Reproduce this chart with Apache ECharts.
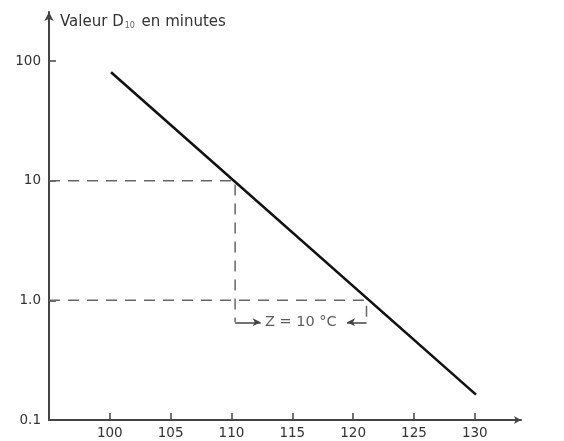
<!DOCTYPE html>
<html><head><meta charset="utf-8">
<script src="https://cdn.jsdelivr.net/npm/echarts@6/dist/echarts.min.js"></script>
<style>html,body{margin:0;padding:0;background:#fff}#c{width:564px;height:441px}</style>
</head><body><div id="c"></div>
<script>
// Data
const xTicks = [100, 105, 110, 115, 120, 125, 130];
const yTicks = [0.1, 1, 10, 100];
const yTickLabels = ['0.1', '1.0', '10', '100'];
const dLine = [[100.1, 80.5], [130.1, 0.163]];          // D-value line
const dashTen = [[95, 10], [110.3, 10], [110.3, 0.656]]; // D = 10 guide
const dashOne = [[95, 1], [121.1, 1], [121.1, 0.656]];   // D = 1 guide
const zLabelPos = [115.7, 0.656];
const zLabel = 'Z = 10 °C';
const zArrowLeft = [[110.3, 0.656], [112.4, 0.656]];
const zArrowRight = [[121.1, 0.656], [119.5, 0.656]];

const chart = echarts.init(document.getElementById('c'));
const font = 'DejaVu Sans, sans-serif';
const dashStyle = {color: '#666', width: 1.5, type: [11, 8]};
chart.setOption({
  animation: false,
  grid: {left: 49, right: 43, top: 12, bottom: 21},
  xAxis: {
    type: 'value', min: 95, max: 133.8, interval: 5,
    axisLine: {lineStyle: {color: '#444', width: 2}, symbol: ['none', 'arrow'], symbolSize: [6, 7]},
    axisTick: {inside: true, length: 7, lineStyle: {color: '#444', width: 1.5}, customValues: xTicks},
    axisLabel: {color: '#333', fontFamily: font, fontSize: 13.5, margin: 6, customValues: xTicks,
      formatter: v => xTicks.includes(v) ? String(v) : ''},
    splitLine: {show: false}
  },
  yAxis: {
    type: 'log', logBase: 10, min: 0.1, max: 257,
    axisLine: {lineStyle: {color: '#444', width: 2}, symbol: ['none', 'arrow'], symbolSize: [7, 9]},
    axisTick: {inside: true, length: 7, lineStyle: {color: '#444', width: 1.5}, customValues: yTicks},
    axisLabel: {color: '#333', fontFamily: font, fontSize: 13.5, margin: 8, customValues: yTicks,
      formatter: v => { const i = yTicks.findIndex(t => Math.abs(t - v) / t < 1e-6); return i >= 0 ? yTickLabels[i] : ''; }},
    splitLine: {show: false},
    name: '{a|Valeur D}{s|10}{a| en minutes}',
    nameLocation: 'end', nameGap: -10,
    nameTextStyle: {align: 'left', verticalAlign: 'middle', padding: [0, 0, 0, 11],
      rich: {a: {fontFamily: font, fontSize: 15, color: '#333'},
             s: {fontFamily: font, fontSize: 8, color: '#666', verticalAlign: 'bottom', padding: [7, 2, 0, 1]}}}
  },
  series: [
    {type: 'line', data: dLine, symbol: 'none', lineStyle: {color: '#111', width: 2.6}},
    {type: 'line', data: dashTen, symbol: 'none', lineStyle: dashStyle},
    {type: 'line', data: dashOne, symbol: 'none', lineStyle: dashStyle,
      markLine: {silent: true, symbol: ['none', 'arrow'], symbolSize: [6, 8],
        lineStyle: {color: '#444', width: 1.5, type: 'solid'}, label: {show: false},
        data: [
          [{coord: zArrowLeft[0]}, {coord: zArrowLeft[1]}],
          [{coord: zArrowRight[0]}, {coord: zArrowRight[1]}]
        ]}},
    {type: 'scatter', data: [zLabelPos], symbolSize: 0,
      label: {show: true, position: 'inside', formatter: zLabel, color: '#333', fontFamily: font, fontSize: 14.5}}
  ]
});
</script></body></html>
